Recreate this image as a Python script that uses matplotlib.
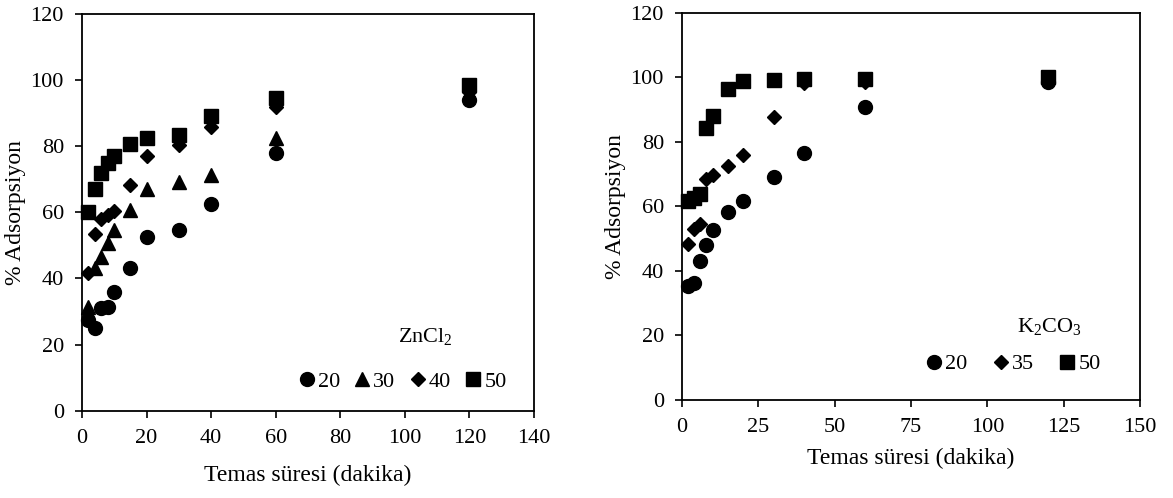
import matplotlib
matplotlib.use("Agg")
import matplotlib.pyplot as plt

plt.rcParams['font.family'] = ['Liberation Serif', 'DejaVu Serif']
plt.rcParams['mathtext.fontset'] = 'custom'
plt.rcParams['mathtext.rm'] = 'Liberation Serif'

# ZnCl2 panel
t_zn = [2, 4, 6, 8, 10, 15, 20, 30, 40, 60, 120]
zn_20 = [27.4, 25.0, 31.0, 31.4, 35.9, 43.2, 52.5, 54.7, 62.5, 78.0, 94.0]
zn_30 = [31.4, 43.2, 46.5, 50.7, 54.7, 60.7, 67.0, 69.2, 71.3, 82.5, 96.0]
zn_40 = [41.7, 53.4, 58.0, 59.2, 60.4, 68.3, 77.1, 80.4, 85.9, 92.0, 96.5]
zn_50 = [60.2, 67.0, 71.9, 75.0, 76.9, 80.7, 82.6, 83.4, 89.1, 94.5, 98.5]

# K2CO3 panel
t_k = [2, 4, 6, 8, 10, 15, 20, 30, 40, 60, 120]
k_20 = [35.5, 36.2, 43.0, 48.2, 52.6, 58.3, 61.6, 69.0, 76.5, 91.0, 98.5]
k_35 = [48.5, 53.0, 54.5, 68.5, 69.8, 72.6, 76.0, 87.6, 98.2, 98.5, 99.0]
k_50 = [61.8, 62.7, 63.8, 84.2, 88.0, 96.4, 98.8, 99.3, 99.5, 99.5, 100.0]

fig = plt.figure(figsize=(11.73, 4.98), dpi=100)
ax1 = fig.add_axes([0.0699, 0.1753, 0.3853, 0.7966])
ax2 = fig.add_axes([0.5814, 0.1968, 0.3905, 0.7771])

ax1.plot(t_zn, zn_20, 'o', color='black', ms=10, label='20', clip_on=False)
ax1.plot(t_zn, zn_30, '^', color='black', ms=10, label='30', clip_on=False)
ax1.plot(t_zn, zn_40, 'D', color='black', ms=7.5, label='40', clip_on=False)
ax1.plot(t_zn, zn_50, 's', color='black', ms=9.5, label='50', clip_on=False)

ax2.plot(t_k, k_20, 'o', color='black', ms=10, label='20', clip_on=False)
ax2.plot(t_k, k_35, 'D', color='black', ms=7.5, label='35', clip_on=False)
ax2.plot(t_k, k_50, 's', color='black', ms=9.5, label='50', clip_on=False)

ax1.set_xlim(0, 140)
ax1.set_xticks(range(0, 141, 20))
ax2.set_xlim(0, 150)
ax2.set_xticks(range(0, 151, 25))

for ax in (ax1, ax2):
    ax.set_ylim(0, 120)
    ax.set_yticks(range(0, 121, 20))
    ax.tick_params(direction='out', length=5, width=1.2, labelsize=16, pad=8)
    for s in ax.spines.values():
        s.set_linewidth(1.3)
    ax.set_ylabel('% Adsorpsiyon', fontsize=17, labelpad=3)
ax1.set_xlabel('Temas süresi (dakika)', fontsize=17, labelpad=12)
ax2.set_xlabel('Temas süresi (dakika)', fontsize=17, labelpad=8)

ax1.legend(ncol=4, frameon=False, fontsize=16, handletextpad=0.0, columnspacing=0.5,
           handlelength=1.0, loc='center', bbox_to_anchor=(0.342, 0.233),
           bbox_transform=fig.transFigure)
fig.text(0.363, 0.323, 'ZnCl$_2$', fontsize=16, ha='center', va='center')

ax2.legend(ncol=3, frameon=False, fontsize=16, handletextpad=0.0, columnspacing=1.0,
           handlelength=1.0, loc='center', bbox_to_anchor=(0.8627, 0.269),
           bbox_transform=fig.transFigure)
fig.text(0.895, 0.343, 'K$_2$CO$_3$', fontsize=16, ha='center', va='center')

fig.savefig('out.png', dpi=100)
